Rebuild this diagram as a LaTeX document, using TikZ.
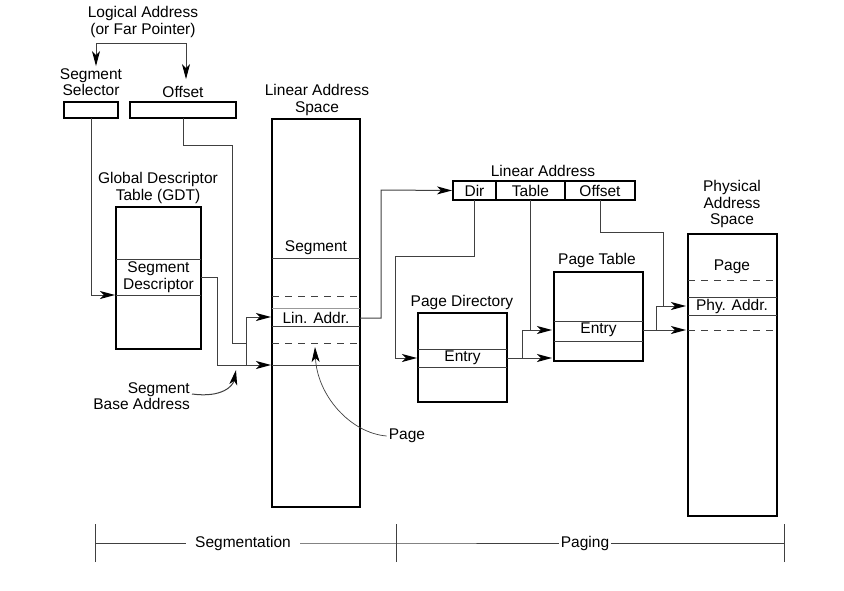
\documentclass[tikz,border=0pt]{standalone}
\usepackage{fontspec}
\setmainfont{Liberation Sans}
\usetikzlibrary{arrows.meta,positioning,calc}

\tikzset{
  box/.style={draw, line width=1.2pt, inner sep=0pt, outer sep=0pt, font=\fontsize{15.5}{16.5}\selectfont},
  part/.style={line width=0.9pt, black!75},
  cut/.style={part, dash pattern=on 7pt off 6pt},
  lbl/.style={align=center, inner sep=0pt, font=\fontsize{15.5}{16.5}\selectfont},
  wire/.style={line width=1pt, black!75},
  tip/.style={-{Stealth[length=15pt,width=8pt,inset=4pt,color=black]}},
  arr/.style={wire, tip}
}

\begin{document}
\begin{tikzpicture}[x=1pt,y=-1pt]
    \useasboundingbox (0,0) rectangle (844,590);

    % Logical address
    \node[lbl] (logical) at (143,22) {Logical Address\\(or Far Pointer)};
    \node[lbl] (selLbl) at (91,82) {Segment\\Selector};
    \node[lbl] (offLbl) at (183,92) {Offset};
    \node[box, minimum width=54pt, minimum height=16pt] (sel) at (91,110) {};
    \node[box, minimum width=106pt, minimum height=16pt] (off) at (183,110) {};
    \coordinate (brL) at (96,43);
    \coordinate (brR) at (186,43);
    \draw[wire] (brL) -- (brR);
    \draw[arr, shorten >=2pt] (brL) -- (brL |- selLbl.north);
    \draw[arr, shorten >=7pt] (brR) -- (brR |- offLbl.north);

    % Global descriptor table
    \node[lbl] (gdtLbl) at (158,188) {Global Descriptor\\Table (GDT)};
    \node[box, minimum width=85pt, minimum height=142pt] (gdt) at (158.5,278) {};
    \foreach \y in {259,295} \draw[part] (116,\y) -- (201,\y);
    \node[lbl] (desc) at (158.5,277) {Segment\\Descriptor};

    % Linear address space
    \node[lbl] (lasLbl) at (317,100) {Linear Address\\Space};
    \node[box, minimum width=88pt, minimum height=388pt] (las) at (316,313) {};
    \foreach \y in {258,326,365} \draw[part] (272,\y) -- (360,\y);
    \draw[part, black!40] (272,308) -- (360,308);
    \foreach \y in {296,343} \draw[cut] (272,\y) -- (360,\y);
    \node[lbl] (segTxt) at (316,248) {Segment};
    \node[lbl] (linTxt) at (316,318) {Lin. Addr.};

    % Segmentation wires
    \coordinate (gdtIn) at (115,295);
    \draw[arr] (sel.south) |- (gdtIn);
    \coordinate (base) at (246,365);
    \coordinate (linIn) at (271,317);
    \draw[wire] (off.south) |- (232,145) |- (246,343);
    \draw[arr] (desc.east -| gdt.east) -| (217,365) -- ([xshift=-1pt]las.west |- base);
    \draw[arr] (base) |- (linIn);

    % Callouts
    \node[lbl, align=right, anchor=east] (baseLbl) at (190,396) {Segment\\Base Address};
    \draw[wire, tip] ([xshift=2pt,yshift=2pt]baseLbl.east) .. controls (222,398) and (233,386) .. (236,370);
    \node[lbl] (pageLbl) at (407,436) {Page};
    \draw[wire, line width=0.7pt, tip] ([xshift=-2pt]pageLbl.west) .. controls (350,433) and (317,395) .. (315,347);

    % Linear address
    \node[lbl] (laLbl) at (543,171) {Linear Address};
    \node[box, minimum width=43pt, minimum height=19pt] (dir) at (474.5,190.5) {Dir};
    \node[box, minimum width=69pt, minimum height=19pt, right=0pt of dir] (tbl) {Table};
    \node[box, minimum width=70pt, minimum height=19pt, right=0pt of tbl] (ofs) {Offset};
    \draw[arr] (linTxt -| las.east) -| (381,190) -- ([xshift=-1pt]dir.west);

    % Page directory
    \node[lbl] (pdLbl) at (462,302) {Page Directory};
    \node[box, minimum width=89pt, minimum height=89pt] (pd) at (462.5,357.5) {};
    \foreach \y in {349,367} \draw[part] (418,\y) -- (507,\y);
    \node[lbl] (pdEntry) at (462.5,358) {Entry};
    \draw[arr] (dir.south) |- (395,256) |- ([xshift=-1pt]pdEntry -| pd.west);

    % Page table
    \node[lbl] (ptLbl) at (597,260) {Page Table};
    \node[box, minimum width=89pt, minimum height=89pt] (pt) at (598.5,316.5) {};
    \foreach \y in {321,341} \draw[part] (554,\y) -- (643,\y);
    \node[lbl] (ptEntry) at (598.5,330) {Entry};
    \coordinate (pdJoin) at (522,0);
    \draw[arr] (pdEntry -| pd.east) -- ([xshift=-2pt]pdEntry -| pt.west);
    \draw[arr] (pdEntry -| pdJoin) |- ([xshift=-2pt]ptEntry -| pt.west);
    \draw[wire] (tbl.south) -- (tbl.south |- ptEntry);

    % Physical address space
    \node[lbl] (phLbl) at (732,204) {Physical\\Address\\Space};
    \node[box, minimum width=89pt, minimum height=282pt] (phys) at (732.5,375) {};
    \foreach \y in {297,315} \draw[part] (688,\y) -- (777,\y);
    \foreach \y in {280,330} \draw[cut] (688,\y) -- (777,\y);
    \node[lbl] (pgTxt) at (732,267) {Page};
    \node[lbl] (phyTxt) at (732,306) {Phy. Addr.};
    \coordinate (ptJoin) at (656,0);
    \coordinate (ofsBend) at (663,232);
    \draw[arr] (ptEntry -| pt.east) -- ([xshift=-2pt]ptEntry -| phys.west);
    \draw[arr] (ptEntry -| ptJoin) |- ([xshift=-2pt]phyTxt -| phys.west);
    \draw[wire] (ofs.south) |- (ofsBend) -- (ofsBend |- phyTxt);

    % Ruler
    \coordinate (rL) at (95,543);
    \coordinate (rM) at (396,543);
    \coordinate (rR) at (784,543);
    \foreach \c in {rL,rM,rR} \draw[wire] ([yshift=-19pt]\c) -- ([yshift=19pt]\c);
    \node[lbl, inner xsep=9pt] (segm) at (243,543) {Segmentation};
    \node[lbl, inner xsep=2pt] (pagi) at (585,543) {Paging};
    \draw[wire] (rL) -- (segm.west);
    \draw[wire] (segm.east) -- (rM) -- (pagi.west);
    \draw[wire] (pagi.east) -- (rR);
\end{tikzpicture}
\end{document}
